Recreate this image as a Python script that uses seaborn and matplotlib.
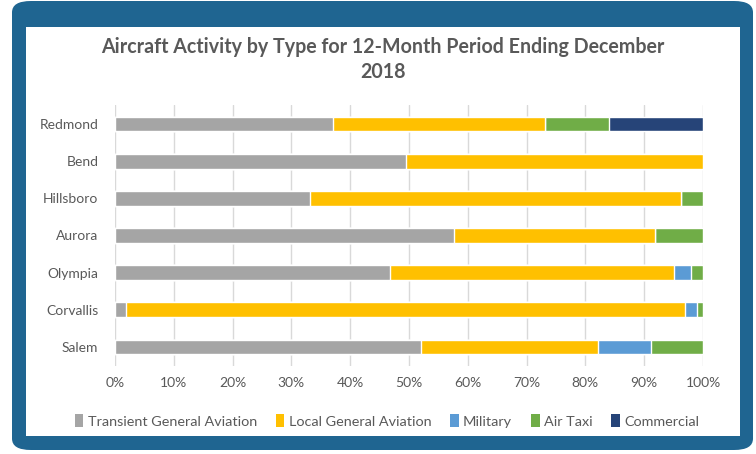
import numpy as np
import pandas as pd
import matplotlib
matplotlib.use('Agg')
import matplotlib.pyplot as plt
import seaborn as sns
from matplotlib.patches import FancyBboxPatch, Rectangle, Patch

# datos del grafico (porcentajes)
aeropuertos = ['Redmond', 'Bend', 'Hillsboro', 'Aurora', 'Olympia', 'Corvallis', 'Salem']
transient_ga = [37.0, 49.5, 33.1, 57.7, 46.8, 1.9, 52.0]
local_ga = [36.1, 50.5, 63.1, 34.2, 48.2, 95.1, 30.1]
military = [0.0, 0.0, 0.0, 0.0, 3.0, 2.0, 9.0]
air_taxi = [10.9, 0.0, 3.8, 8.1, 2.0, 1.0, 8.9]
commercial = [16.0, 0.0, 0.0, 0.0, 0.0, 0.0, 0.0]

tipos = ['Transient General Aviation', 'Local General Aviation', 'Military', 'Air Taxi', 'Commercial']
colores = ['#A5A5A5', '#FFC000', '#5B9BD5', '#70AD47', '#264478']

df = pd.DataFrame({
    'Aeropuerto': aeropuertos,
    tipos[0]: transient_ga,
    tipos[1]: local_ga,
    tipos[2]: military,
    tipos[3]: air_taxi,
    tipos[4]: commercial,
})
# normalizar a 100%
tot = df[tipos].sum(axis=1)
for t in tipos:
    df[t] = df[t] / tot * 100
acum = df[tipos].cumsum(axis=1)

sns.set_style('white')
plt.rcParams['font.family'] = ['Lato', 'DejaVu Sans']
gris = '#595959'

fig = plt.figure(figsize=(7.56, 4.54), dpi=100)

# marco azul con esquinas redondeadas
W, H = 756, 454
marco = FancyBboxPatch((12 / W, 4 / H), (753 - 12) / W, (453 - 4) / H,
                       boxstyle='round,pad=0,rounding_size=0.025',
                       transform=fig.transFigure, facecolor='#1F6591',
                       edgecolor='none', zorder=0)
fig.patches.append(marco)
panel = Rectangle((26 / W, 1 - 436 / H), (740 - 26) / W, (436 - 27) / H,
                  transform=fig.transFigure, facecolor='white',
                  edgecolor='none', zorder=1)
fig.patches.append(panel)

ax = fig.add_axes([115 / W, 1 - 365.6 / H, (703 - 115) / W, (365.6 - 105.4) / H])
ax.set_facecolor('none')
ax.set_zorder(5)

# barras apiladas: se dibuja primero el acumulado mayor
for t, c in reversed(list(zip(tipos, colores))):
    sns.barplot(x=acum[t], y=df['Aeropuerto'], orient='h', color=c,
                width=0.4, saturation=1, ax=ax, zorder=3)

ax.set_xlim(0, 100)
ax.set_xticks(np.arange(0, 101, 10))
ax.set_xticklabels([f'{v}%' for v in range(0, 101, 10)], color=gris, fontsize=10)
ax.tick_params(axis='y', labelcolor=gris, labelsize=10, length=0, pad=12)
ax.tick_params(axis='x', length=0, pad=8)
ax.set_xlabel('')
ax.set_ylabel('')
ax.grid(axis='x', color='#D9D9D9', linewidth=1, zorder=0)
ax.set_axisbelow(True)
for s in ax.spines.values():
    s.set_visible(False)

fig.text(383 / W, 1 - 47 / H, 'Aircraft Activity by Type for 12-Month Period Ending December',
         ha='center', va='center', fontsize=14.1, fontweight='bold', color=gris, zorder=6)
fig.text(383 / W, 1 - 72 / H, '2018', ha='center', va='center',
         fontsize=14.1, fontweight='bold', color=gris, zorder=6)

handles = [Patch(facecolor=c, edgecolor='none') for c in colores]
leg = fig.legend(handles, tipos, loc='center', bbox_to_anchor=(387 / W, 1 - 421 / H),
                 ncol=5, frameon=False, fontsize=10.4, labelcolor=gris,
                 handlelength=0.6, handleheight=1.0, handletextpad=0.3, columnspacing=1.3)
leg.set_zorder(6)

fig.savefig('out.png', dpi=100)
